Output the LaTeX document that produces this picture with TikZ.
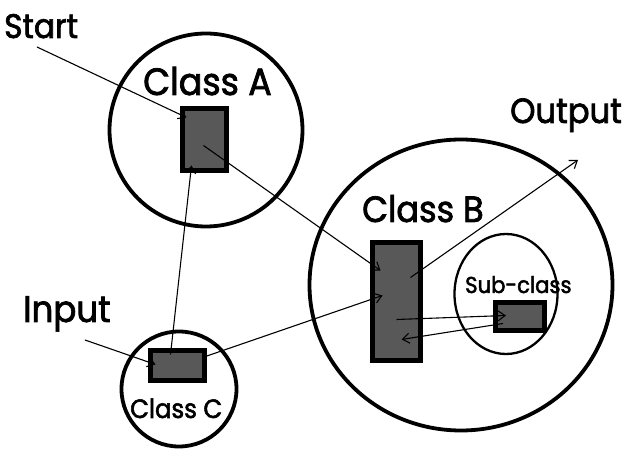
\documentclass[tikz,border=0pt]{standalone}
\usepackage{fontspec}
\setmainfont{Poppins}[FakeStretch=0.92, FakeBold=2]
\usetikzlibrary{arrows.meta,shapes.geometric,calc}
\definecolor{boxfill}{RGB}{88,88,88}
\tikzset{
  ring/.style={draw=black, line width=3.8pt},
  thinring/.style={draw=black, line width=2.3pt},
  classbox/.style={rectangle, draw=black, fill=boxfill, line width=4.8pt, inner sep=0pt},
  flow/.style={draw=black, line width=1.1pt, -{Straight Barb[length=7pt,width=10pt,line width=1.1pt]}},
  lbl/.style={inner sep=0pt, anchor=base west, text=black},
}
\begin{document}
\begin{tikzpicture}[x=1pt, y=-1pt]
  \useasboundingbox (0,0) rectangle (625,449);

  % class boundaries
  \node[ring, ellipse, minimum width=193pt, minimum height=193pt] (ringA) at (206,130) {};
  \node[ring, ellipse, minimum width=303pt, minimum height=291pt] (ringB) at (461,285) {};
  \node[thinring, ellipse, minimum width=103pt, minimum height=120pt] (ringS) at (506,294) {};
  \node[ring, ellipse, minimum width=115pt, minimum height=115pt] (ringC) at (179,389) {};

  % class bodies
  \node[classbox, minimum width=44.2pt, minimum height=62.2pt] (boxA) at (204.5,139.5) {};
  \node[classbox, minimum width=48.2pt, minimum height=118.2pt] (boxB) at (396.5,301.5) {};
  \node[classbox, minimum width=49.2pt, minimum height=28.2pt] (boxS) at (520,316.5) {};
  \node[classbox, minimum width=54.2pt, minimum height=30.2pt] (boxC) at (177.5,365.5) {};

  % labels
  \node[lbl, font=\fontsize{34}{34}\selectfont] (tStart) at (4,38) {Start};
  \node[lbl, font=\fontsize{38}{38}\selectfont] (tA) at (143,95) {Class A};
  \node[lbl, font=\fontsize{36.5}{36.5}\selectfont] (tB) at (362,222) {Class B};
  \node[lbl, font=\fontsize{35}{35}\selectfont] (tOut) at (510,123) {Output};
  \node[lbl, font=\fontsize{37}{37}\selectfont] (tIn) at (23,322) {Input};
  \node[lbl, font=\fontsize{23}{23}\selectfont] (tS) at (465,293) {Sub-class};
  \node[lbl, font=\fontsize{26.5}{26.5}\selectfont] (tC) at (130,418) {Class C};

  % connector end points
  \coordinate (startPt) at (37,47);
  \coordinate (inputPt) at (85,340);
  \coordinate (outputPt) at (578,160);
  \coordinate (aIn) at ($(boxA.center)+(-18,-22)$);
  \coordinate (aOut) at ($(boxA.center)+(-1,6)$);
  \coordinate (aFromC) at ($(boxA.center)+(-13,26)$);
  \coordinate (bFromA) at ($(boxB.center)+(-16,-31)$);
  \coordinate (bToOut) at ($(boxB.center)+(14,-24)$);
  \coordinate (bFromC) at ($(boxB.center)+(-14,-6)$);
  \coordinate (bToS) at ($(boxB.center)+(0,18)$);
  \coordinate (bFromS) at ($(boxB.center)+(5,38)$);
  \coordinate (sFromB) at ($(boxS.center)+(-14,-1)$);
  \coordinate (sToB) at ($(boxS.center)+(-17,7)$);
  \coordinate (cIn) at ($(boxC.center)+(-22,-1)$);
  \coordinate (cToA) at ($(boxC.center)+(-7,-11)$);
  \coordinate (cToB) at ($(boxC.center)+(25,-8)$);

  % flows
  \draw[flow] (startPt) -- (aIn);
  \draw[flow] (aOut) -- (bFromA);
  \draw[flow] (cToA) -- (aFromC);
  \draw[flow] (inputPt) -- (cIn);
  \draw[flow] (cToB) -- (bFromC);
  \draw[flow] (bToOut) -- (outputPt);
  \draw[flow] (bToS) -- (sFromB);
  \draw[flow] (sToB) -- (bFromS);
\end{tikzpicture}
\end{document}
